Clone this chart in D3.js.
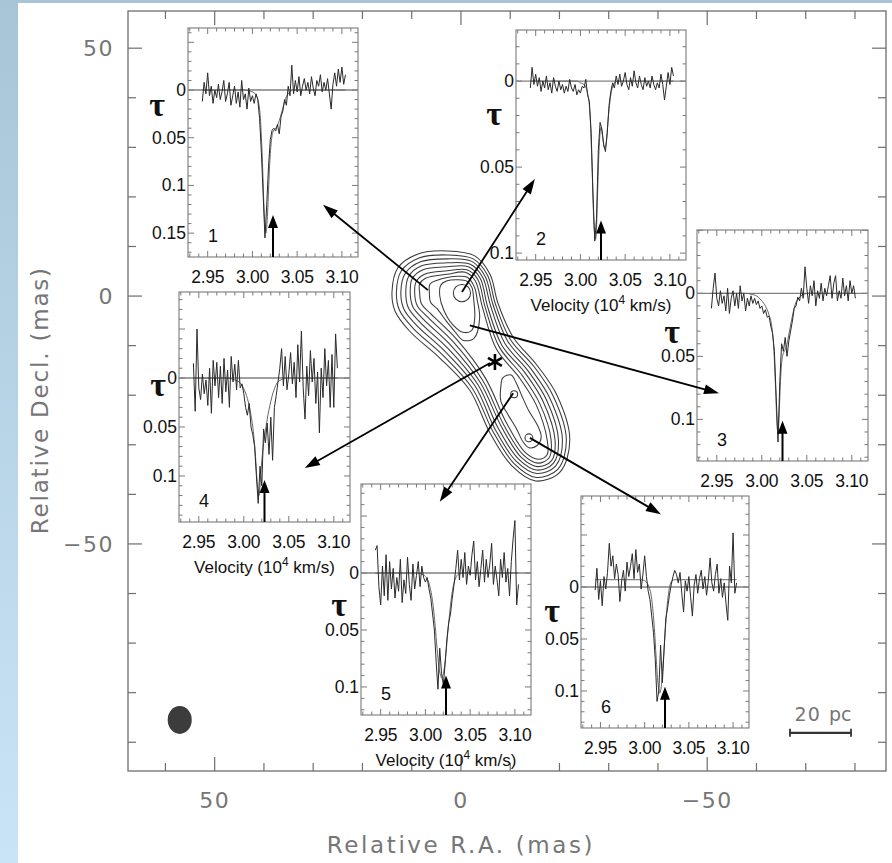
<!DOCTYPE html>
<html><head><meta charset="utf-8">
<script src="https://cdn.jsdelivr.net/npm/d3@7"></script>
<style>body{margin:0;background:#fff}svg{display:block}</style>
</head><body><svg id="c" width="892" height="863"></svg>
<script>
// ---------------- DATA ----------------
const raTicks = [60,50,40,30,20,10,0,-10,-20,-30,-40,-50,-60,-70,-80];
const decTicks = [50,40,30,20,10,0,-10,-20,-30,-40,-50,-60,-70,-80,-90];
const raLabelTicks = [50,0,-50];
const raLabelText = ["50","0","\u221250"];
const decLabelTicks = [50,0,-50];
const decLabelText = ["50","0","\u221250"];

// contour levels (Relative R.A., Relative Decl.) in mas, outer to inner
const contour1 = [[14.0,0.8],[12.8,5.7],[8.7,8.5],[2.8,9.1],[-2.8,8.1],[-5.9,4.4],[-7.5,-1.4],[-10.6,-8.3],[-15.4,-13.9],[-19.5,-20.0],[-22.1,-29.0],[-20.1,-35.5],[-15.2,-37.3],[-10.4,-34.3],[-5.9,-27.6],[-1.8,-19.0],[4.3,-12.5],[10.4,-7.1],[13.4,-3.0]];
const contour2 = [[13.1,0.8],[12.1,5.1],[8.5,7.7],[2.8,8.3],[-2.5,7.5],[-5.4,4.2],[-7.0,-1.6],[-10.0,-8.7],[-14.9,-14.3],[-18.8,-20.3],[-21.4,-29.0],[-19.7,-34.9],[-15.3,-36.6],[-10.8,-33.8],[-6.5,-27.3],[-2.3,-18.6],[3.7,-11.9],[9.7,-6.5],[12.5,-2.8]];
const contour3 = [[12.2,0.8],[11.3,4.6],[8.2,6.9],[2.8,7.5],[-2.2,7.0],[-4.9,4.0],[-6.5,-1.7],[-9.5,-9.1],[-14.3,-14.8],[-18.1,-20.7],[-20.6,-29.0],[-19.2,-34.3],[-15.4,-35.8],[-11.3,-33.4],[-7.0,-27.0],[-2.9,-18.2],[3.2,-11.2],[9.0,-5.9],[11.6,-2.6]];
const contour4 = [[11.2,0.8],[10.6,4.0],[8.0,6.1],[2.8,6.7],[-1.9,6.4],[-4.4,3.8],[-6.0,-1.9],[-8.9,-9.5],[-13.7,-15.2],[-17.4,-21.0],[-19.8,-29.0],[-18.8,-33.7],[-15.4,-35.1],[-11.7,-32.9],[-7.6,-26.7],[-3.4,-17.8],[2.6,-10.6],[8.3,-5.3],[10.7,-2.3]];
const contour5 = [[10.3,0.8],[9.9,3.5],[7.7,5.3],[2.8,5.9],[-1.5,5.9],[-3.9,3.6],[-5.4,-2.1],[-8.3,-9.9],[-13.1,-15.6],[-16.7,-21.3],[-19.1,-29.0],[-18.4,-33.2],[-15.5,-34.4],[-12.2,-32.5],[-8.2,-26.3],[-3.9,-17.4],[2.0,-10.0],[7.6,-4.7],[9.8,-2.1]];
const contour6 = [[9.4,0.8],[9.1,2.9],[7.4,4.4],[2.8,5.1],[-1.2,5.3],[-3.4,3.4],[-4.9,-2.2],[-7.8,-10.3],[-12.5,-16.1],[-16.0,-21.7],[-18.3,-29.0],[-17.9,-32.6],[-15.6,-33.7],[-12.6,-32.0],[-8.7,-26.0],[-4.4,-17.0],[1.5,-9.3],[6.9,-4.1],[8.9,-1.9]];
const contour7 = [[8.4,0.8],[8.4,2.4],[7.2,3.6],[2.8,4.4],[-0.9,4.8],[-2.9,3.1],[-4.4,-2.4],[-7.2,-10.7],[-11.9,-16.5],[-15.3,-22.0],[-17.5,-29.0],[-17.5,-32.0],[-15.7,-32.9],[-13.1,-31.6],[-9.3,-25.7],[-5.0,-16.6],[0.9,-8.7],[6.2,-3.5],[8.0,-1.6]];
const contour8 = [[6.4,0.6],[6.3,2.4],[4.8,3.2],[2.8,3.75],[0.6,4.0],[-1.3,3.8],[-2.75,1.8],[-3.3,-0.8],[-3.8,-4.4],[-2.6,-8.6],[-0.4,-8.9],[1.2,-7.2],[3.0,-5.0],[4.8,-2.6],[6.2,-1.2]];
const contourA = [[4.1,2.2],[2.8,3.1],[0.6,3.3],[-1.2,3.0],[-2.2,1.8],[-2.6,-0.8],[-2.8,-4.4],[-2.2,-6.9],[-0.4,-7.3],[1.8,-5.6],[3.5,-2.8],[4.3,0.0]];
const contourBC = [[-8.5,-16.5],[-10.2,-15.9],[-11.2,-17.5],[-12.4,-20.2],[-13.8,-23.2],[-15.4,-25.8],[-16.3,-28.4],[-15.4,-30.2],[-13.8,-30.6],[-12.6,-29.4],[-11.3,-26.8],[-9.6,-24.0],[-8.1,-21.2],[-8.1,-18.3]];
const peakRA = [-0.2,-10.8,-13.8];
const peakDec = [0.6,-19.8,-28.6];
const peakR = [1.75,0.7,0.8];

// arrows from map positions to spectra (mas)
const arrowFrom = [[6.7,1.2],[-0.2,0.8],[-1.8,-5.9],[-5.9,-13.5],[-10.6,-19.6],[-14.0,-28.6]];
const arrowTo = [[28.0,18.4],[-15.0,23.6],[-52.4,-19.6],[31.7,-34.7],[4.3,-41.5],[-40.6,-44.0]];
const starPos = [-6.9,-13.3];
const beamPos = [57.1,-85.5];
const beamRadii = [2.44,2.82];
const scaleBarRA = [-66.8,-79.2];
const scaleBarDec = -88.1;

// spectra: shared channel velocities (10^4 km/s) and optical depth
const channels = [2.944,2.946,2.948,2.950,2.952,2.954,2.956,2.958,2.960,2.962,2.964,2.966,2.968,2.970,2.972,2.974,2.976,2.978,2.980,2.982,2.984,2.986,2.988,2.990,2.992,2.994,2.996,2.998,3.000,3.002,3.004,3.006,3.008,3.010,3.012,3.014,3.016,3.018,3.020,3.022,3.024,3.026,3.028,3.030,3.032,3.034,3.036,3.038,3.040,3.042,3.044,3.046,3.048,3.050,3.052,3.054,3.056,3.058,3.060,3.062,3.064,3.066,3.068,3.070,3.072,3.074,3.076,3.078,3.080,3.082,3.084,3.086,3.088,3.090,3.092,3.094,3.096,3.098,3.100,3.102,3.104];
const tau1 = [0.012,-0.008,0.004,-0.018,0.006,-0.004,0.014,0.000,0.008,-0.006,0.010,0.002,-0.010,0.012,0.004,-0.008,0.016,0.006,-0.004,0.014,0.002,0.018,-0.010,0.010,0.004,0.020,-0.002,0.012,0.006,0.014,0.004,0.010,0.030,0.065,0.110,0.155,0.120,0.080,0.052,0.042,0.040,0.043,0.036,0.046,0.028,0.022,0.010,0.016,-0.004,0.006,-0.026,0.004,-0.010,0.002,-0.014,0.006,-0.004,-0.012,0.000,-0.008,0.004,-0.014,-0.002,0.006,-0.010,-0.004,-0.016,0.002,-0.008,0.000,-0.012,0.004,0.020,-0.006,-0.018,-0.004,-0.022,-0.008,-0.024,-0.006,-0.016];
const tau2 = [0.004,-0.008,0.002,-0.004,0.003,-0.002,0.006,0.000,0.004,-0.003,0.005,0.001,0.007,-0.002,0.003,0.006,0.000,0.005,0.002,0.007,0.003,0.006,-0.001,0.004,0.006,0.002,0.008,0.005,0.007,0.003,0.004,-0.001,0.008,0.012,0.030,0.065,0.093,0.080,0.040,0.024,0.028,0.037,0.041,0.030,0.014,0.006,0.001,0.004,-0.003,0.002,-0.004,0.003,0.000,-0.005,0.002,0.005,-0.002,0.003,-0.006,0.001,0.004,-0.003,0.002,0.005,-0.002,0.003,0.000,0.004,-0.003,0.002,0.005,0.001,0.004,-0.004,0.002,0.011,0.003,-0.005,0.002,-0.008,-0.003];
const tau3 = [0.012,-0.004,-0.016,0.004,0.010,-0.002,0.008,0.002,0.014,-0.004,0.016,0.004,-0.002,0.010,0.000,0.012,-0.006,0.006,0.000,0.014,0.004,0.010,0.002,0.008,0.004,0.009,0.006,0.012,0.010,0.016,0.013,0.019,0.018,0.026,0.032,0.046,0.082,0.118,0.070,0.040,0.046,0.035,0.050,0.038,0.030,0.022,0.012,0.010,0.003,0.006,-0.004,0.004,-0.021,-0.004,0.008,-0.006,0.002,-0.010,0.010,-0.002,0.004,-0.008,0.006,-0.004,0.002,-0.006,-0.014,0.004,-0.008,-0.014,0.006,-0.002,0.004,-0.012,0.002,-0.006,0.006,-0.010,0.000,-0.006,0.004];
const tau4 = [-0.015,0.034,-0.050,0.010,0.022,-0.004,0.016,0.002,0.028,-0.010,0.036,-0.018,0.008,-0.016,0.020,-0.012,0.026,-0.020,0.014,-0.008,0.030,-0.022,0.004,-0.014,0.012,-0.018,0.010,0.006,0.016,0.030,0.038,0.026,0.050,0.058,0.070,0.100,0.128,0.090,0.110,0.052,0.066,0.046,0.078,0.040,0.084,0.030,0.018,0.004,-0.010,-0.030,0.008,-0.022,0.012,-0.004,-0.026,0.006,-0.016,0.020,-0.034,0.004,-0.048,0.010,0.042,-0.012,0.018,-0.028,0.004,-0.020,0.026,-0.006,0.056,-0.010,0.020,-0.030,0.008,-0.018,0.030,-0.024,0.030,-0.045,-0.010];
const tau5 = [-0.020,-0.024,0.012,0.028,-0.006,0.020,-0.016,0.024,-0.010,0.014,-0.004,0.022,0.004,0.016,-0.012,0.026,0.006,0.018,-0.014,0.010,0.024,-0.008,0.014,0.002,-0.010,0.012,-0.006,0.004,0.008,0.004,0.014,0.022,0.036,0.050,0.078,0.102,0.066,0.088,0.098,0.080,0.058,0.044,0.036,0.022,0.010,-0.004,-0.020,0.006,-0.012,0.004,-0.018,0.010,-0.006,0.002,-0.016,-0.028,0.006,-0.010,0.012,-0.004,-0.020,0.008,-0.012,0.004,-0.008,-0.026,0.010,-0.006,0.006,0.020,-0.012,0.004,-0.018,0.008,-0.004,0.020,-0.010,-0.030,-0.046,0.028,0.010];
const tau6 = [0.003,-0.018,0.012,-0.006,0.018,-0.010,0.002,-0.014,-0.042,-0.020,-0.030,-0.008,-0.022,-0.012,0.014,-0.006,-0.016,0.004,-0.024,-0.010,-0.020,-0.032,-0.008,-0.036,-0.014,-0.022,0.002,-0.012,-0.030,-0.010,0.004,0.012,0.028,0.044,0.070,0.110,0.100,0.056,0.092,0.060,0.030,0.020,0.008,-0.002,-0.010,-0.016,-0.012,-0.004,-0.014,0.006,0.024,-0.006,0.004,-0.010,0.010,0.028,-0.002,-0.012,0.006,-0.008,-0.016,0.002,-0.010,0.008,-0.006,-0.028,-0.004,0.004,-0.012,-0.022,0.006,-0.008,0.010,-0.004,0.016,0.032,-0.020,-0.004,-0.052,0.006,-0.004];

// fitted profiles
const fitVel = [2.944,2.980,2.990,2.996,3.000,3.004,3.008,3.011,3.013,3.015,3.017,3.018,3.019,3.021,3.023,3.025,3.027,3.029,3.031,3.034,3.037,3.041,3.046,3.052,3.060,3.104];
const fit1 = [0,0,0,0.001,0.002,0.005,0.020,0.070,0.125,0.150,0.128,0.105,0.083,0.055,0.044,0.041,0.039,0.035,0.029,0.019,0.009,0.003,0,0,0,0];
const fit2 = [0,0,0,0,0.001,0.002,0.007,0.022,0.050,0.082,0.092,0.085,0.068,0.038,0.027,0.033,0.039,0.035,0.022,0.008,0.002,0,0,0,0,0];
const fit3 = [0,0,0.001,0.003,0.006,0.010,0.017,0.026,0.040,0.070,0.105,0.112,0.100,0.066,0.050,0.046,0.043,0.037,0.029,0.018,0.009,0.004,0.001,0,0,0];
const fit4 = [0,0,0.002,0.005,0.011,0.021,0.038,0.058,0.080,0.108,0.120,0.110,0.096,0.075,0.060,0.048,0.037,0.028,0.020,0.011,0.005,0.002,0,0,0,0];
const fit5 = [0,0,0,0.001,0.003,0.009,0.025,0.047,0.066,0.082,0.090,0.092,0.091,0.084,0.070,0.052,0.036,0.022,0.012,0.004,0.001,0,0,0,0,0];
const fit6 = [-0.007,-0.007,-0.007,-0.007,-0.006,-0.002,0.012,0.040,0.068,0.092,0.102,0.100,0.094,0.072,0.045,0.022,0.006,-0.003,-0.006,-0.007,-0.007,-0.007,-0.007,-0.007,-0.007,-0.007];

const velTicks = [2.95,3.00,3.05,3.10];
const velTickText = ["2.95","3.00","3.05","3.10"];
const tauTicks1 = [0,0.05,0.1,0.15];
const tauTicks2 = [0,0.05,0.1];
const tauTickText1 = ["0","0.05","0.1","0.15"];
const tauTickText2 = ["0","0.05","0.1"];
const spectrumNames = ["1","2","3","4","5","6"];
const systemicVel = 3.023;
const arrowTipTau = [0.131,0.081,0.101,0.104,0.090,0.096];

// ---------------- LAYOUT ----------------
const svg = d3.select('#c');
const FR = {x0:128, x1:886, y0:11, y1:771};
const x = d3.scaleLinear().domain([67.6,-86.3]).range([FR.x0,FR.x1]);
const y = d3.scaleLinear().domain([57.5,-95.8]).range([FR.y0,FR.y1]);
const axisFont = "'DejaVu Sans', Verdana, sans-serif";
const insetFont = "'Liberation Sans', Arial, Helvetica, sans-serif";
const grayText = '#767676';

// background
const defs = svg.append('defs');
const gr = defs.append('linearGradient').attr('id','bg').attr('x1',0).attr('y1',0).attr('x2',0).attr('y2',1);
gr.append('stop').attr('offset','0%').attr('stop-color','#a8c5d8');
gr.append('stop').attr('offset','100%').attr('stop-color','#c9e5f5');
svg.append('rect').attr('width',892).attr('height',863).attr('fill','#fff');
svg.append('rect').attr('x',0).attr('y',0).attr('width',18).attr('height',863).attr('fill','url(#bg)');
svg.append('rect').attr('x',0).attr('y',0).attr('width',892).attr('height',3).attr('fill','#a8c5d8');

// main frame
const axG = svg.append('g');
axG.append('rect').attr('x',FR.x0).attr('y',FR.y0).attr('width',FR.x1-FR.x0).attr('height',FR.y1-FR.y0)
  .attr('fill','none').attr('stroke','#6e6e6e').attr('stroke-width',1.3);
raTicks.forEach(t=>{
  const L = raLabelTicks.includes(t)?14:8;
  axG.append('line').attr('x1',x(t)).attr('x2',x(t)).attr('y1',FR.y1).attr('y2',FR.y1-L).attr('stroke','#6e6e6e').attr('stroke-width',1.2);
  axG.append('line').attr('x1',x(t)).attr('x2',x(t)).attr('y1',FR.y0).attr('y2',FR.y0+L).attr('stroke','#6e6e6e').attr('stroke-width',1.2);
});
decTicks.forEach(t=>{
  const L = decLabelTicks.includes(t)?14:8;
  axG.append('line').attr('y1',y(t)).attr('y2',y(t)).attr('x1',FR.x0).attr('x2',FR.x0+L).attr('stroke','#6e6e6e').attr('stroke-width',1.2);
  axG.append('line').attr('y1',y(t)).attr('y2',y(t)).attr('x1',FR.x1).attr('x2',FR.x1-L).attr('stroke','#6e6e6e').attr('stroke-width',1.2);
});
raLabelTicks.forEach((t,i)=>{
  axG.append('text').attr('x',x(t)).attr('y',808).attr('text-anchor','middle').attr('letter-spacing',1.5)
    .attr('font-family',axisFont).attr('font-size',22).attr('fill',grayText).text(raLabelText[i]);
});
decLabelTicks.forEach((t,i)=>{
  axG.append('text').attr('x',114).attr('y',y(t)+8).attr('text-anchor','end').attr('letter-spacing',1.5)
    .attr('font-family',axisFont).attr('font-size',22).attr('fill',grayText).text(decLabelText[i]);
});
axG.append('text').attr('x',x(0)).attr('y',853).attr('text-anchor','middle').attr('letter-spacing',2.6)
  .attr('font-family',axisFont).attr('font-size',23).attr('fill',grayText).text('Relative R.A. (mas)');
axG.append('text').attr('transform','translate(48,'+y(-21)+') rotate(-90)').attr('text-anchor','middle').attr('letter-spacing',1.8)
  .attr('font-family',axisFont).attr('font-size',23).attr('fill',grayText).text('Relative Decl. (mas)');

// contours
const cLine = d3.line().x(d=>x(d[0])).y(d=>y(d[1])).curve(d3.curveCatmullRomClosed.alpha(0.5));
const contours = [contour1,contour2,contour3,contour4,contour5,contour6,contour7,contour8,contourA,contourBC];
svg.append('g').selectAll('path').data(contours).join('path')
  .attr('d',cLine).attr('fill','none').attr('stroke','#3a3a3a').attr('stroke-width',1.05);
peakRA.forEach((r,i)=>{
  svg.append('ellipse').attr('cx',x(r)).attr('cy',y(peakDec[i]))
    .attr('rx',Math.abs(x(peakR[i])-x(0))).attr('ry',Math.abs(y(peakR[i])-y(0)))
    .attr('fill','none').attr('stroke','#3a3a3a').attr('stroke-width',1.05);
});

// arrow helper
function arrow(g,x1,y1,x2,y2,len,wid,sw){
  const dx=x2-x1, dy=y2-y1, d=Math.hypot(dx,dy), ux=dx/d, uy=dy/d;
  const bx=x2-ux*len, by=y2-uy*len;
  g.append('line').attr('x1',x1).attr('y1',y1).attr('x2',bx+ux*2).attr('y2',by+uy*2)
    .attr('stroke','#000').attr('stroke-width',sw);
  g.append('path').attr('d',`M${x2},${y2}L${bx-uy*wid/2},${by+ux*wid/2}L${bx+uy*wid/2},${by-ux*wid/2}Z`).attr('fill','#000');
}

// star
const sx=x(starPos[0]), sy=y(starPos[1]);
[90,30,150].forEach(a=>{
  const r=a*Math.PI/180, L=8;
  svg.append('line').attr('x1',sx-Math.cos(r)*L).attr('y1',sy-Math.sin(r)*L)
    .attr('x2',sx+Math.cos(r)*L).attr('y2',sy+Math.sin(r)*L).attr('stroke','#000').attr('stroke-width',2.6);
});

// beam
svg.append('ellipse').attr('cx',x(beamPos[0])).attr('cy',y(beamPos[1]))
  .attr('rx',Math.abs(x(beamRadii[0])-x(0))).attr('ry',Math.abs(y(beamRadii[1])-y(0))).attr('fill','#3c3c3c');

// scale bar
const sbY=y(scaleBarDec);
svg.append('line').attr('x1',x(scaleBarRA[0])).attr('x2',x(scaleBarRA[1])).attr('y1',sbY).attr('y2',sbY).attr('stroke','#333').attr('stroke-width',2.2);
scaleBarRA.forEach(r=>svg.append('line').attr('x1',x(r)).attr('x2',x(r)).attr('y1',sbY-4).attr('y2',sbY+4).attr('stroke','#333').attr('stroke-width',1.8));
svg.append('text').attr('x',x(-70.4)).attr('y',y(-84.3)+7).attr('text-anchor','middle').attr('font-family',axisFont).attr('font-size',19).attr('letter-spacing',1).attr('fill',grayText).text('20');
svg.append('text').attr('x',x(-77.0)).attr('y',y(-84.3)+7).attr('text-anchor','middle').attr('font-family',axisFont).attr('font-size',19).attr('fill',grayText).text('pc');

// ---------------- INSETS ----------------
const insetBoxes = [[188,28,170,229],[516,30,170,230],[697,230,171,231],[179,292,171,230],[361,484,170,231],[581,496,168,232]];
const tauDomains = [[-0.065,0.175],[-0.0297,0.104],[-0.0502,0.133],[-0.0878,0.147],[-0.0781,0.1246],[-0.0875,0.1356]];
const velDomain = [2.928,3.118];
const taus = [tau1,tau2,tau3,tau4,tau5,tau6];
const fits = [fit1,fit2,fit3,fit4,fit5,fit6];
const tauTickSets = [tauTicks1,tauTicks2,tauTicks2,tauTicks2,tauTicks2,tauTicks2];
const tauTickTexts = [tauTickText1,tauTickText2,tauTickText2,tauTickText2,tauTickText2,tauTickText2];
const tauSymbolPos = [[-31,0.019],[-22,0.021],[-25,0.033],[-21,0.010],[-22,0.031],[-29,0.026]];
const velocityTitle = [false,true,false,true,true,false];

insetBoxes.forEach((b,i)=>{
  const [bx,by,bw,bh]=b;
  const g = svg.append('g');
  const xs = d3.scaleLinear().domain(velDomain).range([bx,bx+bw]);
  const ys = d3.scaleLinear().domain(tauDomains[i]).range([by,by+bh]);
  g.append('rect').attr('x',bx).attr('y',by).attr('width',bw).attr('height',bh).attr('fill','#fff');
  const tc='#7a7a7a';
  d3.range(293,312).forEach(k=>{
    const v=k/100, maj = (k%5===0), L = maj?6:3.5;
    g.append('line').attr('x1',xs(v)).attr('x2',xs(v)).attr('y1',by+bh).attr('y2',by+bh-L).attr('stroke',tc).attr('stroke-width',1);
    g.append('line').attr('x1',xs(v)).attr('x2',xs(v)).attr('y1',by).attr('y2',by+L).attr('stroke',tc).attr('stroke-width',1);
  });
  const td=tauDomains[i];
  d3.range(Math.ceil(td[0]*100+1e-6),Math.floor(td[1]*100-1e-6)+1).forEach(k=>{
    const t=k/100, maj=(k%5===0), L=maj?6:3.5;
    g.append('line').attr('y1',ys(t)).attr('y2',ys(t)).attr('x1',bx).attr('x2',bx+L).attr('stroke',tc).attr('stroke-width',1);
    g.append('line').attr('y1',ys(t)).attr('y2',ys(t)).attr('x1',bx+bw).attr('x2',bx+bw-L).attr('stroke',tc).attr('stroke-width',1);
  });
  g.append('rect').attr('x',bx).attr('y',by).attr('width',bw).attr('height',bh).attr('fill','none').attr('stroke','#7a7a7a').attr('stroke-width',1.1);
  g.append('line').attr('x1',bx).attr('x2',bx+bw).attr('y1',ys(0)).attr('y2',ys(0)).attr('stroke','#808080').attr('stroke-width',1.3);
  g.append('path').datum(fitVel.map((v,j)=>[v,fits[i][j]]))
    .attr('d',d3.line().x(d=>xs(d[0])).y(d=>ys(d[1])).curve(d3.curveMonotoneX))
    .attr('fill','none').attr('stroke','#666').attr('stroke-width',1);
  g.append('path').datum(channels.map((v,j)=>[v,taus[i][j]]))
    .attr('d',d3.line().defined(d=>d[1]!=null).x(d=>xs(d[0])).y(d=>ys(d[1])))
    .attr('fill','none').attr('stroke','#2a2a2a').attr('stroke-width',1);
  arrow(g,xs(systemicVel),by+bh,xs(systemicVel),ys(arrowTipTau[i]),13,10,2);
  velTicks.forEach((v,j)=>{
    g.append('text').attr('x',xs(v)).attr('y',by+bh+26).attr('text-anchor','middle').attr('letter-spacing',-0.3)
      .attr('font-family',insetFont).attr('font-size',17.5).attr('fill','#111').text(velTickText[j]);
  });
  tauTickSets[i].forEach((t,j)=>{
    g.append('text').attr('x',bx-2).attr('y',ys(t)+6).attr('text-anchor','end')
      .attr('font-family',insetFont).attr('font-size',17.5).attr('fill','#111').text(tauTickTexts[i][j]);
  });
  g.append('text').attr('x',bx+tauSymbolPos[i][0]).attr('y',ys(tauSymbolPos[i][1])+8).attr('text-anchor','middle')
    .attr('font-family',"'Liberation Serif','Times New Roman',serif").attr('font-size',34).attr('font-weight','bold').attr('fill','#111').text('\u03c4');
  g.append('text').attr('x',bx+25).attr('y',by+bh-15).attr('text-anchor','middle')
    .attr('font-family',insetFont).attr('font-size',18).attr('fill','#111').text(spectrumNames[i]);
  if(velocityTitle[i]){
    const t=g.append('text').attr('x',bx+bw/2).attr('y',by+bh+51).attr('text-anchor','middle')
      .attr('font-family',insetFont).attr('font-size',17).attr('fill','#111');
    t.append('tspan').text('Velocity (10');
    t.append('tspan').attr('font-size',12).attr('dy',-7).text('4');
    t.append('tspan').attr('dy',7).text(' km/s)');
  }
});

// arrows drawn on top of the insets
const arG = svg.append('g');
arrowFrom.forEach((f,i)=>{
  arrow(arG,x(f[0]),y(f[1]),x(arrowTo[i][0]),y(arrowTo[i][1]),15,10,1.8);
});
</script></body></html>
